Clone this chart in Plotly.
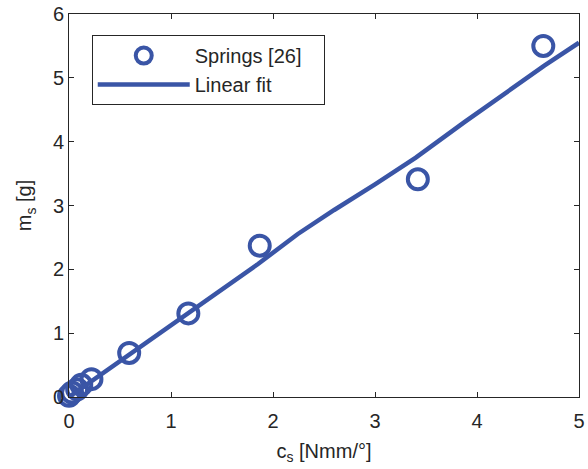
import plotly.graph_objects as go

# Data
cs_springs = [0.0, 0.03, 0.08, 0.12, 0.22, 0.59, 1.17, 1.87, 3.42, 4.65]
ms_springs = [0.02, 0.07, 0.12, 0.19, 0.28, 0.69, 1.31, 2.37, 3.41, 5.50]

cs_fit = [0.0, 0.6, 1.17, 1.4, 1.85, 2.24, 2.6, 3.0, 3.4, 3.88, 4.2, 4.66, 5.0]
ms_fit = [0.0, 0.68, 1.31, 1.57, 2.08, 2.55, 2.93, 3.33, 3.75, 4.31, 4.67, 5.19, 5.55]

x_ticks = [0, 1, 2, 3, 4, 5]
y_ticks = [0, 1, 2, 3, 4, 5, 6]

blue = "#3a55a6"
txt = "#262626"
font_family = "Liberation Sans, Arial, sans-serif"
pad = "\u00a0\u00a0\u00a0"

fig = go.Figure()
fig.add_trace(go.Scatter(
    x=cs_springs, y=ms_springs, mode="markers", name="Springs [26]" + pad,
    marker=dict(symbol="circle-open", size=20, color=blue, line=dict(width=4, color=blue)),
    cliponaxis=False, legendgroup="a",
))
fig.add_trace(go.Scatter(
    x=cs_fit, y=ms_fit, mode="lines", name="Linear fit",
    line=dict(color=blue, width=4.5),
    cliponaxis=False, legendgroup="b",
))

axis_common = dict(
    showline=True, linecolor="#262626", linewidth=1, mirror="ticks",
    ticks="inside", ticklen=5, tickcolor="#262626", tickwidth=1,
    showgrid=False, zeroline=False,
    tickfont=dict(size=20, color=txt, family=font_family),
)

fig.update_layout(
    width=588, height=469,
    margin=dict(l=69, r=3, t=11, b=72),
    paper_bgcolor="white", plot_bgcolor="white",
    font=dict(family=font_family, size=20, color=txt),
    xaxis=dict(range=[0, 5], tickvals=x_ticks, ticktext=[str(v) for v in x_ticks],
               ticklabeloverflow="allow", ticklabelstandoff=6,
               title=dict(text="c<sub>s</sub> [Nmm/°]", font=dict(size=20, color=txt), standoff=12),
               **axis_common),
    yaxis=dict(range=[0, 6], tickvals=y_ticks, ticktext=[str(v) for v in y_ticks],
               title=dict(text="m<sub>s</sub> [g]", font=dict(size=20, color=txt), standoff=15),
               **axis_common),
    showlegend=True,
    legend=dict(
        x=0.0446, y=0.945, xanchor="left", yanchor="top",
        bordercolor="#262626", borderwidth=1, bgcolor="white",
        font=dict(size=20, color=txt, family=font_family),
        itemwidth=92, tracegroupgap=10, traceorder="normal",
    ),
)

fig.write_html("out.html")
